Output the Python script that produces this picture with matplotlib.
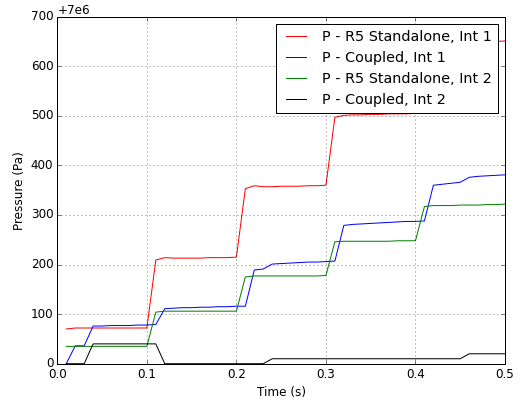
import matplotlib
matplotlib.use("Agg")
import matplotlib.pyplot as plt
import numpy as np

plt.style.use("classic")

time_s = [0.01, 0.02, 0.03, 0.04, 0.05, 0.06, 0.07, 0.08, 0.09, 0.10,
          0.11, 0.12, 0.13, 0.14, 0.15, 0.16, 0.17, 0.18, 0.19, 0.20,
          0.21, 0.22, 0.23, 0.24, 0.25, 0.26, 0.27, 0.28, 0.29, 0.30,
          0.31, 0.32, 0.33, 0.34, 0.35, 0.36, 0.37, 0.38, 0.39, 0.40,
          0.41, 0.42, 0.43, 0.44, 0.45, 0.46, 0.47, 0.48, 0.49, 0.50]

base_pressure = 7.0e6

# Offsets from 7e6 Pa
r5_int1 = [70, 72, 72, 72, 72, 72, 72, 72, 72, 72,
           209, 214, 213, 213, 213, 213, 214, 214, 214, 215,
           353, 359, 357, 357, 358, 358, 358, 359, 359, 360,
           497, 501, 502, 502, 503, 503, 504, 504, 504, 505,
           643, 645, 646, 647, 647, 648, 648, 649, 650, 651]

coupled_int1 = [0, 36, 36, 76, 76, 77, 77, 77, 78, 78,
                79, 111, 112, 113, 113, 114, 114, 115, 115, 116,
                116, 189, 191, 201, 202, 203, 204, 205, 205, 206,
                207, 279, 281, 282, 283, 284, 285, 286, 287, 287,
                288, 360, 362, 364, 366, 376, 378, 379, 380, 381]

r5_int2 = [35, 35, 35, 35, 35, 35, 35, 35, 35, 35,
           104, 106, 106, 106, 106, 106, 106, 106, 106, 106,
           175, 177, 177, 177, 177, 177, 177, 177, 177, 178,
           246, 247, 247, 247, 247, 247, 247, 248, 248, 248,
           317, 319, 319, 319, 320, 320, 320, 321, 321, 322]

coupled_int2 = [0, 0, 0, 40, 40, 40, 40, 40, 40, 40,
                40, 0, 0, 0, 0, 0, 0, 0, 0, 0,
                0, 0, 0, 10, 10, 10, 10, 10, 10, 10,
                10, 10, 10, 10, 10, 10, 10, 10, 10, 10,
                10, 10, 10, 10, 10, 20, 20, 20, 20, 20]

series = [
    ("P - R5 Standalone, Int 1", r5_int1, "r"),
    ("P - Coupled, Int 1", coupled_int1, "b"),
    ("P - R5 Standalone, Int 2", r5_int2, "g"),
    ("P - Coupled, Int 2", coupled_int2, "k"),
]

fig = plt.figure(figsize=(523 / 72, 401 / 72), dpi=72, facecolor="white")
ax = fig.add_axes([0.1096, 0.0930, 0.8560, 0.8654])

t = np.array(time_s)
for label, vals, col in series:
    ax.plot(t, base_pressure + np.array(vals), color=col, lw=1, label=label)

ax.set_xlim(0, 0.5)
ax.set_ylim(base_pressure + 0, base_pressure + 700)
ax.set_xticks([0.0, 0.1, 0.2, 0.3, 0.4, 0.5])
ax.set_yticks(base_pressure + np.array([0, 100, 200, 300, 400, 500, 600, 700]))
ax.grid(True)
ax.set_xlabel("Time (s)")
ax.set_ylabel("Pressure (Pa)")
ax.legend(loc="upper right")

fig.savefig("out.png", dpi=72, facecolor="white")
